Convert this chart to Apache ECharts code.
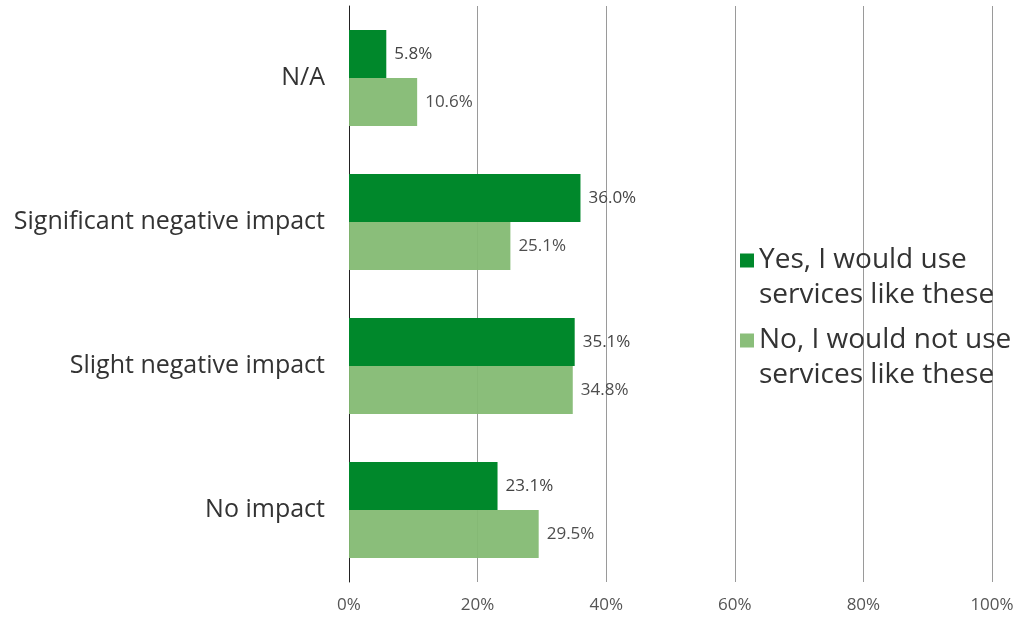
<!DOCTYPE html>
<html>
<head>
<meta charset="utf-8">
<script src="https://cdn.jsdelivr.net/npm/echarts@6/dist/echarts.min.js"></script>
<style>
  html, body { margin: 0; padding: 0; background: #fff; }
  #chart { width: 1021px; height: 619px; }
</style>
</head>
<body>
<div id="chart"></div>
<script>
// Survey answers, listed bottom to top on the category axis
const categories = ['No impact', 'Slight negative impact', 'Significant negative impact', 'N/A'];
const yesValues = [23.1, 35.1, 36.0, 5.8];
const noValues = [29.5, 34.8, 25.1, 10.6];
const tickValues = [0, 20, 40, 60, 80, 100];
const yesName = 'Yes, I would use\nservices like these';
const noName = 'No, I would not use\nservices like these';

const FONT = '"Open Sans", "Noto Sans", sans-serif';
const chart = echarts.init(document.getElementById('chart'), null, { renderer: 'canvas' });

const valueLabel = {
  show: true,
  position: 'right',
  distance: 8,
  color: '#444',
  fontSize: 17,
  fontFamily: FONT,
  formatter: p => p.value.toFixed(1) + '%'
};

chart.setOption({
  animation: false,
  textStyle: { fontFamily: FONT },
  grid: { left: 349, right: 29, top: 6, bottom: 37, containLabel: false },
  legend: {
    data: [yesName, noName],
    orient: 'vertical',
    left: 735,
    top: 203,
    icon: 'rect',
    itemWidth: 14,
    itemHeight: 14,
    itemGap: -25,
    // a blank leading line keeps the swatch level with the first text line
    formatter: name => '\n' + name,
    textStyle: { fontSize: 28, lineHeight: 35, color: '#333', fontFamily: FONT }
  },
  xAxis: {
    type: 'value',
    min: 0,
    max: 100,
    interval: 20,
    axisLine: { show: false },
    axisTick: { show: false },
    axisLabel: {
      margin: 15,
      color: '#555',
      fontSize: 17,
      fontFamily: FONT,
      formatter: v => tickValues.includes(v) ? v + '%' : ''
    },
    splitLine: { show: true, lineStyle: { color: '#9a9a9a', width: 1 } }
  },
  yAxis: {
    type: 'category',
    data: categories,
    axisLine: { show: true, lineStyle: { color: '#222', width: 1 } },
    axisTick: { show: false },
    axisLabel: { margin: 24, color: '#333', fontSize: 25, fontFamily: FONT }
  },
  series: [
    {
      name: yesName,
      type: 'bar',
      data: yesValues,
      barGap: '0%',
      barCategoryGap: '33.3%',
      itemStyle: { color: '#00882b' },
      label: valueLabel
    },
    {
      name: noName,
      type: 'bar',
      data: noValues,
      barGap: '0%',
      barCategoryGap: '33.3%',
      itemStyle: { color: '#84bb73', opacity: 0.95 },
      label: valueLabel
    }
  ]
});
</script>
</body>
</html>
